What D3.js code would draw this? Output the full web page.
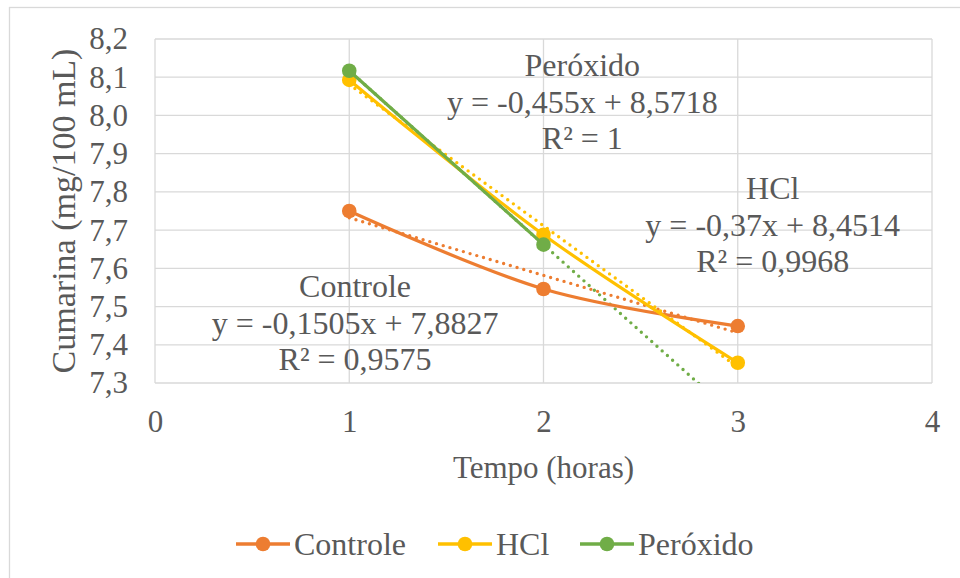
<!DOCTYPE html>
<html>
<head>
<meta charset="utf-8">
<script src="https://cdn.jsdelivr.net/npm/d3@7"></script>
<style>
  body { margin: 0; background: #fff; }
  svg text { font-family: "Liberation Serif", "Times New Roman", serif; fill: #595959; }
</style>
</head>
<body>
<div id="chart"></div>
<script>
'use strict';

// tempo (horas)
var hours = [1, 2, 3];
var seriesNames = ['Controle', 'HCl', 'Peróxido'];
var controle = [7.75, 7.546, 7.449];
var hcl = [8.093, 7.688, 7.353];
var peroxido = [8.117, 7.662, null];

var xTicks = [0, 1, 2, 3, 4];
var yTicks = [7.3, 7.4, 7.5, 7.6, 7.7, 7.8, 7.9, 8.0, 8.1, 8.2];

// trend labels as shown by the spreadsheet
var trendLabels = [
  ['Controle', 'y = -0,1505x + 7,8827', 'R² = 0,9575'],
  ['HCl', 'y = -0,37x + 8,4514', 'R² = 0,9968'],
  ['Peróxido', 'y = -0,455x + 8,5718', 'R² = 1']
];
// label anchors in data units (x, y of the first line)
var labelAnchors = [[1.03, 7.554], [3.18, 7.81], [2.2, 8.132]];

var colors = ['#ED7D31', '#FFC000', '#70AD47'];

var width = 960, height = 578;
var margin = {left: 155, top: 39, right: 28, bottom: 195};

var svg = d3.select('#chart').append('svg')
  .attr('width', width)
  .attr('height', height);

// chart border
svg.append('rect')
  .attr('x', 9.5).attr('y', 7.5)
  .attr('width', 1000).attr('height', 1000)
  .attr('fill', 'none')
  .attr('stroke', '#d9d9d9')
  .attr('stroke-width', 1.3);

var x = d3.scaleLinear().domain([0, 4]).range([margin.left, width - margin.right]);
var y = d3.scaleLinear().domain([7.3, 8.2]).range([height - margin.bottom, margin.top]);

var fmt = function (d) { return d3.format('.1f')(d).replace('.', ','); };

// gridlines
var grid = svg.append('g').attr('class', 'grid');
grid.selectAll('line.h').data(yTicks).enter().append('line')
  .attr('class', 'h')
  .attr('x1', x(0)).attr('x2', x(4))
  .attr('y1', function (d) { return y(d); })
  .attr('y2', function (d) { return y(d); })
  .attr('stroke', '#d9d9d9').attr('stroke-width', 1.3);
grid.selectAll('line.v').data(xTicks).enter().append('line')
  .attr('class', 'v')
  .attr('y1', y(7.3)).attr('y2', y(8.2))
  .attr('x1', function (d) { return x(d); })
  .attr('x2', function (d) { return x(d); })
  .attr('stroke', '#d9d9d9').attr('stroke-width', 1.3);

// axes (labels only, lines are the grid)
var yAxis = svg.append('g')
  .attr('transform', 'translate(' + (x(0) - 27) + ',0)')
  .call(d3.axisLeft(y).tickValues(yTicks).tickFormat(fmt).tickSize(0).tickPadding(0));
var xAxis = svg.append('g')
  .attr('transform', 'translate(0,' + (y(7.3) + 27) + ')')
  .call(d3.axisBottom(x).tickValues(xTicks).tickFormat(d3.format('d')).tickSize(0).tickPadding(0));
[yAxis, xAxis].forEach(function (a) {
  a.select('.domain').remove();
  a.selectAll('text')
    .style('font-family', '"Liberation Serif", serif')
    .style('font-size', '31px')
    .attr('fill', '#595959');
});
xAxis.selectAll('text').attr('dy', '0.71em').attr('y', 0);

// axis titles
svg.append('text')
  .attr('x', (x(0) + x(4)) / 2)
  .attr('y', 467)
  .attr('dy', '0.35em')
  .attr('text-anchor', 'middle')
  .style('font-size', '31px')
  .text('Tempo (horas)');
svg.append('text')
  .attr('transform', 'translate(63,' + ((y(7.3) + y(8.2)) / 2) + ') rotate(-90)')
  .attr('dy', '0.35em')
  .attr('text-anchor', 'middle')
  .style('font-size', '34px')
  .text('Cumarina (mg/100 mL)');

var series = [controle, hcl, peroxido].map(function (vals, i) {
  return {
    name: seriesNames[i],
    color: colors[i],
    points: hours.map(function (h, j) { return {x: h, y: vals[j]}; })
      .filter(function (p) { return p.y !== null; })
  };
});

// linear least squares for the trendlines
function fit(pts) {
  var mx = d3.mean(pts, function (p) { return p.x; });
  var my = d3.mean(pts, function (p) { return p.y; });
  var sxy = d3.sum(pts, function (p) { return (p.x - mx) * (p.y - my); });
  var sxx = d3.sum(pts, function (p) { return (p.x - mx) * (p.x - mx); });
  var b = sxy / sxx;
  return {b: b, a: my - b * mx};
}

svg.append('clipPath').attr('id', 'plot-clip')
  .append('rect')
  .attr('x', x(0)).attr('y', y(8.2))
  .attr('width', x(4) - x(0)).attr('height', y(7.3) - y(8.2));

var plot = svg.append('g').attr('clip-path', 'url(#plot-clip)');

// trendlines span the full category range 1..3
series.forEach(function (s) {
  var f = fit(s.points);
  var tx = [hours[0], hours[hours.length - 1]];
  plot.append('line')
    .attr('x1', x(tx[0])).attr('y1', y(f.a + f.b * tx[0]))
    .attr('x2', x(tx[1])).attr('y2', y(f.a + f.b * tx[1]))
    .attr('stroke', s.color)
    .attr('stroke-width', 3.4)
    .attr('stroke-linecap', 'round')
    .attr('stroke-dasharray', '0,7');
});

var line = d3.line()
  .x(function (p) { return x(p.x); })
  .y(function (p) { return y(p.y); })
  .curve(d3.curveCatmullRom.alpha(0));

series.forEach(function (s) {
  var g = svg.append('g');
  g.append('path')
    .datum(s.points)
    .attr('d', line)
    .attr('fill', 'none')
    .attr('stroke', s.color)
    .attr('stroke-width', 3.2)
    .attr('stroke-linecap', 'round');
  g.selectAll('circle').data(s.points).enter().append('circle')
    .attr('cx', function (p) { return x(p.x); })
    .attr('cy', function (p) { return y(p.y); })
    .attr('r', 7.3)
    .attr('fill', s.color);
});

// trend equation labels
trendLabels.forEach(function (lines, i) {
  var t = svg.append('text')
    .attr('text-anchor', 'middle')
    .style('font-size', '32px');
  lines.forEach(function (l, k) {
    t.append('tspan')
      .attr('x', x(labelAnchors[i][0]))
      .attr('y', y(labelAnchors[i][1]) + k * 36.5)
      .attr('dy', '0.35em')
      .text(l);
  });
});

// legend
var legendX = [236, 438, 580];
var legend = svg.append('g').attr('transform', 'translate(0,544)');
series.forEach(function (s, i) {
  var g = legend.append('g').attr('transform', 'translate(' + legendX[i] + ',0)');
  g.append('line')
    .attr('x1', 0).attr('x2', 54)
    .attr('stroke', s.color).attr('stroke-width', 3.4);
  g.append('circle').attr('cx', 27).attr('r', 7.3).attr('fill', s.color);
  g.append('text')
    .attr('x', 58)
    .attr('dy', '0.35em')
    .style('font-size', '32px')
    .text(s.name);
});
</script>
</body>
</html>
